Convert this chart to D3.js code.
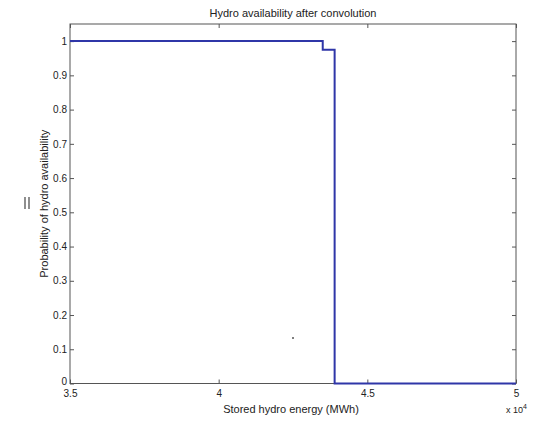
<!DOCTYPE html>
<html>
<head>
<meta charset="utf-8">
<script src="https://cdn.jsdelivr.net/npm/d3@7"></script>
<style>
  html, body { margin: 0; padding: 0; background: #fff; }
  svg { display: block; }
  text { font-family: "Liberation Sans", Arial, Helvetica, sans-serif; fill: #222; }
</style>
</head>
<body>
<svg id="chart" width="536" height="421"></svg>
<script>
// Stored energy breakpoints (MWh) and availability probability after each one
const energy = [35000, 43500, 43900, 50000];
const probability = [1, 0.975, 0, 0];

const xTicks = [35000, 40000, 45000, 50000];
const xTickLabels = ["3.5", "4", "4.5", "5"];
const yTicks = [0, 0.1, 0.2, 0.3, 0.4, 0.5, 0.6, 0.7, 0.8, 0.9, 1];
const yTickLabels = ["0", "0.1", "0.2", "0.3", "0.4", "0.5", "0.6", "0.7", "0.8", "0.9", "1"];

const svg = d3.select("#chart");
const plotLeft = 70, plotRight = 516, plotTop = 24, plotBottom = 383.5;

const x = d3.scaleLinear().domain([35000, 50000]).range([plotLeft, plotRight]);
const y = d3.scaleLinear().domain([0, 1.05]).range([plotBottom, plotTop]);

const axisColor = "#555";

// Bottom axis with inward ticks
const gx = svg.append("g").attr("transform", `translate(0,${plotBottom})`)
  .call(d3.axisBottom(x).tickValues(xTicks)
    .tickFormat((d, i) => xTickLabels[i]).tickSizeInner(-4).tickSizeOuter(0).tickPadding(6));
// Top axis ticks
const gxt = svg.append("g").attr("transform", `translate(0,${plotTop})`)
  .call(d3.axisTop(x).tickValues(xTicks).tickFormat("").tickSizeInner(-4).tickSizeOuter(0));
// Left axis
const gy = svg.append("g").attr("transform", `translate(${plotLeft},0)`)
  .call(d3.axisLeft(y).tickValues(yTicks)
    .tickFormat((d, i) => yTickLabels[i]).tickSizeInner(-4).tickSizeOuter(0).tickPadding(3));
// Right axis ticks
const gyr = svg.append("g").attr("transform", `translate(${plotRight},0)`)
  .call(d3.axisRight(y).tickValues(yTicks).tickFormat("").tickSizeInner(-4).tickSizeOuter(0));

[gx, gxt, gy, gyr].forEach(g => {
  g.select(".domain").remove();
  g.selectAll(".tick line").attr("stroke", axisColor);
  g.selectAll(".tick text").attr("font-size", 10).attr("fill", "#222")
    .attr("font-family", "'Liberation Sans', Arial, sans-serif");
});
// Lift the bottom-left "0" so it clears the first x label
gy.selectAll(".tick text").filter(d => d === 0).attr("dy", "0.1em");

// Box around the plotting area
svg.append("rect")
  .attr("x", plotLeft).attr("y", plotTop)
  .attr("width", plotRight - plotLeft).attr("height", plotBottom - plotTop)
  .attr("fill", "none").attr("stroke", axisColor).attr("stroke-width", 1);

// Availability step curve
const pts = energy.map((e, i) => [e, probability[i]]);
svg.append("path")
  .datum(pts)
  .attr("fill", "none")
  .attr("stroke", "#2f36a8")
  .attr("stroke-width", 2)
  .attr("d", d3.line().x(d => x(d[0])).y(d => y(d[1])).curve(d3.curveStepAfter));

// Title and axis labels
svg.append("text").attr("x", (plotLeft + plotRight) / 2).attr("y", 17)
  .attr("text-anchor", "middle").attr("font-size", 11)
  .text("Hydro availability after convolution");

svg.append("text").attr("x", 291).attr("y", 413)
  .attr("text-anchor", "middle").attr("font-size", 11)
  .text("Stored hydro energy (MWh)");

svg.append("text")
  .attr("transform", `translate(48,${(plotTop + plotBottom) / 2}) rotate(-90)`)
  .attr("text-anchor", "middle").attr("font-size", 11)
  .text("Probability of hydro availability");

// Exponent multiplier for the x axis
const mult = svg.append("text").attr("x", 506).attr("y", 413).attr("font-size", 9);
mult.append("tspan").text("x 10");
mult.append("tspan").attr("dy", -4).attr("font-size", 7).text("4");

// Small marks in the margin
svg.append("line").attr("x1", 25).attr("x2", 25).attr("y1", 197).attr("y2", 209)
  .attr("stroke", "#444").attr("stroke-width", 1.2);
svg.append("line").attr("x1", 29).attr("x2", 29).attr("y1", 197).attr("y2", 209)
  .attr("stroke", "#444").attr("stroke-width", 1.2);
svg.append("circle").attr("cx", 293).attr("cy", 338).attr("r", 1).attr("fill", "#555");
</script>
</body>
</html>
